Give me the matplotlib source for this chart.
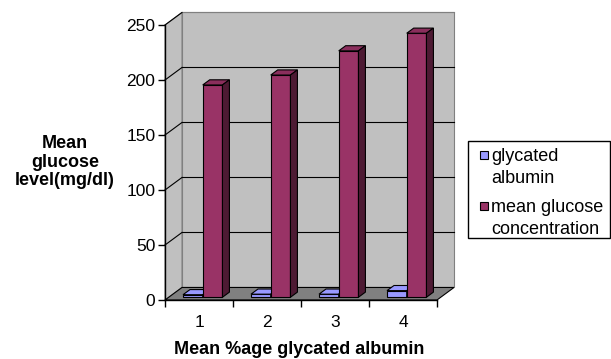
import matplotlib

matplotlib.use("Agg")
import matplotlib.pyplot as plt
from matplotlib.patches import Polygon, Rectangle

plt.rcParams["font.family"] = ["Liberation Sans", "DejaVu Sans"]

# data
categories = ["1", "2", "3", "4"]
glycated_albumin = [2.3, 2.8, 2.8, 6.0]
mean_glucose = [193, 202, 224, 240]
series_labels = ["glycated\nalbumin", "mean glucose\nconcentration"]
y_ticks = [0, 50, 100, 150, 200, 250]
y_max = 250

# Excel 2003 style colours: (front, top, side)
series_colors = [
    ("#9999FF", "#9999FF", "#4D4D80"),
    ("#993366", "#8A2E5C", "#4D1A33"),
]
WALL = "#C0C0C0"
FLOOR = "#808080"

# fake 3d: depth offset in data units
DX = 0.25
DY = 11.4
BAR_W = 0.29
D0, D1 = 0.22, 0.63


def shift(x, y, d):
    return (x + d * DX, y + d * DY)


def draw_box(ax, x0, x1, h, colors):
    front, top, side = colors
    faces = [
        ([shift(x0, 0, D0), shift(x1, 0, D0), shift(x1, h, D0), shift(x0, h, D0)], front),
        ([shift(x0, h, D0), shift(x1, h, D0), shift(x1, h, D1), shift(x0, h, D1)], top),
        ([shift(x1, 0, D0), shift(x1, 0, D1), shift(x1, h, D1), shift(x1, h, D0)], side),
    ]
    for pts, c in faces:
        ax.add_patch(Polygon(pts, closed=True, facecolor=c, edgecolor="black",
                             linewidth=0.8, zorder=5, clip_on=False))


fig = plt.figure(figsize=(6.11, 3.59), dpi=100)
ax = fig.add_axes([165 / 611, 59 / 359, 272 / 611, 275 / 359])
n = len(categories)
ax.set_xlim(0, n)
ax.set_ylim(0, y_max)
ax.patch.set_visible(False)

# walls and floor
ax.add_patch(Polygon([shift(0, 0, 1), shift(n, 0, 1), shift(n, y_max, 1), shift(0, y_max, 1)],
                     facecolor=WALL, edgecolor="#808080", linewidth=0.8, zorder=1, clip_on=False))
ax.add_patch(Polygon([(0, 0), shift(0, 0, 1), shift(0, y_max, 1), (0, y_max)],
                     facecolor=WALL, edgecolor="#808080", linewidth=0.8, zorder=1, clip_on=False))
ax.add_patch(Polygon([(0, 0), (n, 0), shift(n, 0, 1), shift(0, 0, 1)],
                     facecolor=FLOOR, edgecolor="black", linewidth=0.8, zorder=2, clip_on=False))

# gridlines on the back and side wall
for v in y_ticks[1:]:
    c = "black" if v < y_max else "#808080"
    bx0, by = shift(0, v, 1)
    bx1, _ = shift(n, v, 1)
    ax.plot([bx0, bx1], [by, by], color=c, linewidth=0.8, zorder=3, clip_on=False)
    ax.plot([0, bx0], [v, by], color="black", linewidth=0.8, zorder=3, clip_on=False)

# bars
for i in range(n):
    center = i + 0.5
    for s, vals in enumerate([glycated_albumin, mean_glucose]):
        x0 = center - BAR_W + s * BAR_W
        draw_box(ax, x0, x0 + BAR_W, vals[i], series_colors[s])

# axes, ticks
for side in ["top", "right"]:
    ax.spines[side].set_visible(False)
ax.spines["left"].set_linewidth(1.0)
ax.spines["bottom"].set_linewidth(1.0)
ax.spines["left"].set_zorder(6)
ax.spines["bottom"].set_zorder(6)
ax.set_yticks(y_ticks)
ax.tick_params(axis="y", direction="out", length=5, width=1, labelsize=12.5, pad=2)
ax.set_xticks(range(n + 1))
ax.set_xticklabels([""] * (n + 1))
ax.set_xticks([i + 0.5 for i in range(n)], minor=True)
ax.set_xticklabels(categories, minor=True)
ax.tick_params(axis="x", which="major", direction="out", length=5, width=1)
ax.tick_params(axis="x", which="minor", length=0, labelsize=12.5, pad=11)

fig.text(65 / 611, 1 - 162 / 359, "Mean\nglucose\nlevel(mg/dl)", ha="center", va="center",
         fontsize=13, fontweight="bold", linespacing=1.15)
fig.text(299 / 611, 1 - 350 / 359, "Mean %age glycated albumin", ha="center", va="center",
         fontsize=13, fontweight="bold")

# legend box
fig.patches.append(Rectangle((468 / 611, 1 - 238 / 359), 142 / 611, 97 / 359,
                             transform=fig.transFigure, facecolor="white",
                             edgecolor="black", linewidth=1))
for s, (lab, ty) in enumerate(zip(series_labels, [155, 206])):
    fig.patches.append(Rectangle((480 / 611, 1 - (ty + 4) / 359), 8 / 611, 8 / 359,
                                 transform=fig.transFigure, facecolor=series_colors[s][0],
                                 edgecolor="black", linewidth=0.8))
    fig.text(491 / 611, 1 - (ty - 7) / 359, lab, ha="left", va="top", fontsize=13,
             linespacing=1.4)

fig.savefig("out.png", dpi=100)
